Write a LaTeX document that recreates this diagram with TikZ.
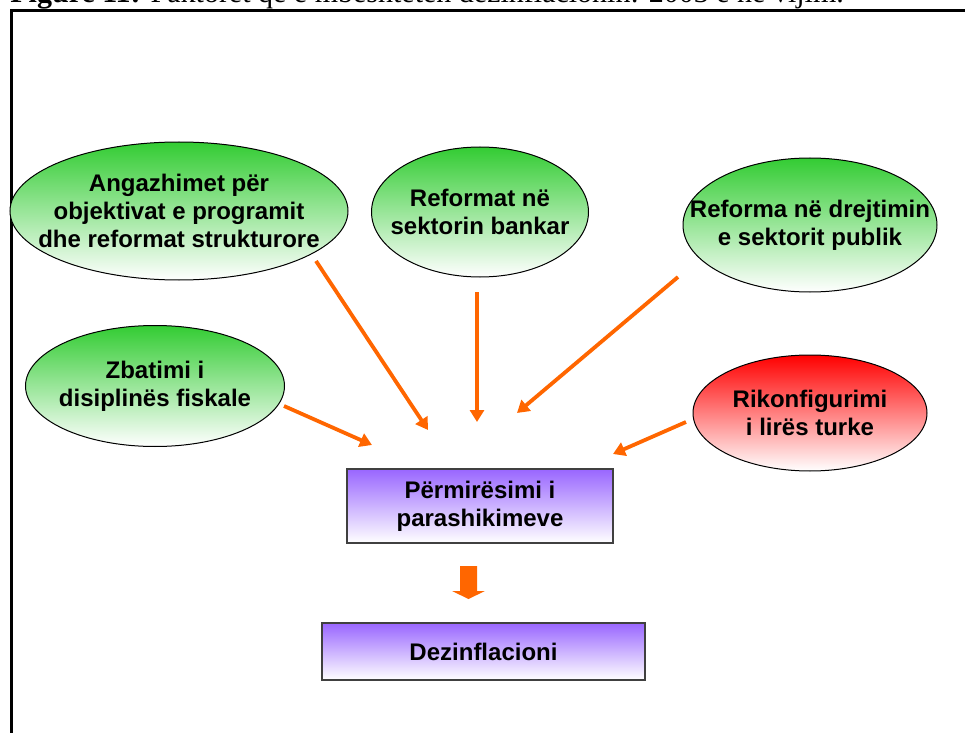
\documentclass[tikz,border=0pt]{standalone}
\usepackage{fontspec}
\setmainfont{Liberation Sans}
\newfontfamily\titleserif{Liberation Serif}
\usetikzlibrary{shapes.geometric,arrows.meta}
\definecolor{egreen}{RGB}{51,204,51}
\definecolor{ered}{RGB}{255,0,0}
\definecolor{epurple}{RGB}{153,102,255}
\definecolor{aorange}{RGB}{255,102,0}
\tikzset{
  ell/.style={ellipse, draw=black, line width=0.5pt, top color=egreen, bottom color=white,
    inner xsep=-80pt, inner ysep=-40pt, align=center, font=\bfseries\fontsize{12}{14}\selectfont},
  redell/.style={ell, top color=ered, bottom color=white},
  pbox/.style={rectangle, draw=black!75, line width=0.6pt, top color=epurple, bottom color=white,
    inner sep=0pt, align=center, font=\bfseries\fontsize{12}{14}\selectfont},
  arr/.style={draw=aorange, line width=1.9pt, -{Triangle[length=6pt,width=7pt]}},
  frame/.style={draw=black, line width=1.5pt}
}
\begin{document}
\begin{tikzpicture}[x=0.5pt,y=-0.5pt]
\useasboundingbox (0,0) rectangle (965,733);
% title (cut by the top edge)
\node[anchor=base west, inner sep=0pt] (title) at (10,3)
  {\titleserif\fontsize{15}{17}\selectfont\textbf{Figure 11:} Faktorët që e mbështetën dezinflacionin: 2003 e në vijim.};
% frame
\coordinate (fbl) at (11,745);
\coordinate (ftl) at (11,11);
\coordinate (ftr) at (975,11);
\draw[frame] (fbl) -- (ftl) -- (ftr);
% ellipses
\node[ell, minimum width=169pt, minimum height=69pt] (e1) at (179,211)
  {Angazhimet për\\objektivat e programit\\dhe reformat strukturore};
\node[ell, minimum width=108.5pt, minimum height=65pt] (e2) at (480,212)
  {Reformat në\\sektorin bankar};
\node[ell, minimum width=127pt, minimum height=67pt] (e3) at (810,225)
  {Reforma në drejtimin\\e sektorit publik};
\node[ell, minimum width=129.5pt, minimum height=60.5pt] (e4) at (155,386)
  {Zbatimi i\\disiplinës fiskale};
\node[redell, minimum width=117pt, minimum height=58pt] (e5) at (810,413)
  {Rikonfigurimi\\i lirës turke};
% boxes
\node[pbox, minimum width=133pt, minimum height=37pt] (b1) at (480,506)
  {Përmirësimi i\\parashikimeve};
\node[pbox, minimum width=161.5pt, minimum height=28.5pt] (b2) at (483.5,651.5)
  {Dezinflacioni};
% block arrow between the boxes
\coordinate (bigtop) at (468.5,566);
\fill[aorange] (bigtop) ++(-8.5,0) -- ++(17,0) -- ++(0,25) -- ++(8,0)
  -- (468.5,599) -- (452,591) -- (460,591) -- cycle;
% connectors
\coordinate (s1) at (316,261); \coordinate (t1) at (428,430);
\coordinate (s2) at (477,292); \coordinate (t2) at (477,422);
\coordinate (s3) at (678,277); \coordinate (t3) at (517,413);
\coordinate (s4) at (284,406); \coordinate (t4) at (372,445);
\coordinate (s5) at (686,422); \coordinate (t5) at (613,454);
\draw[arr] (s1) -- (t1);
\draw[arr] (s2) -- (t2);
\draw[arr] (s3) -- (t3);
\draw[arr] (s4) -- (t4);
\draw[arr] (s5) -- (t5);
\end{tikzpicture}
\end{document}
